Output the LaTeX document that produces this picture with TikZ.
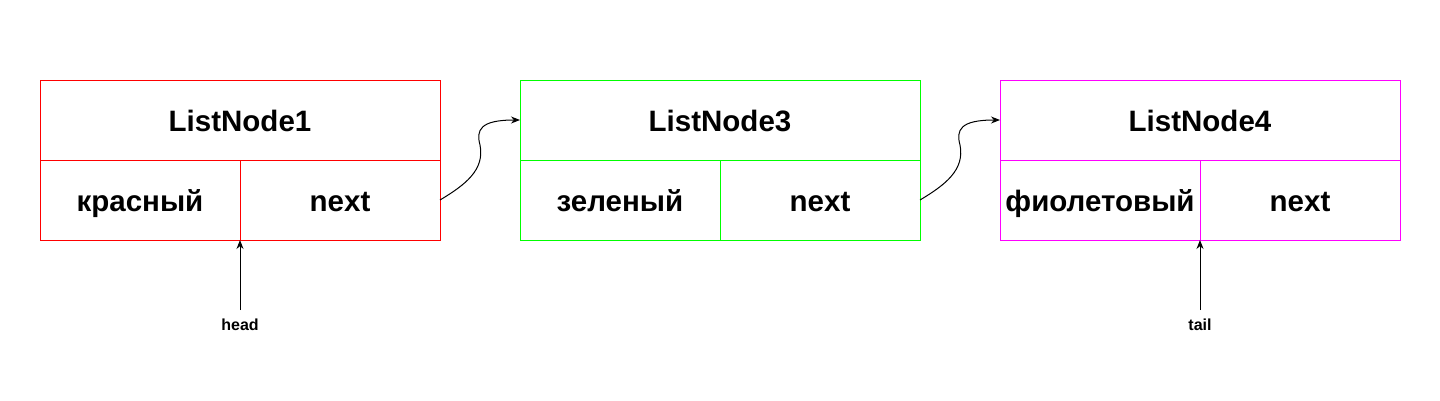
\documentclass[tikz,border=0pt]{standalone}
\usepackage{fontspec}
\setmainfont{Liberation Sans}
\usetikzlibrary{arrows.meta,positioning}
\definecolor{nodered}{RGB}{255,0,0}
\definecolor{nodegreen}{RGB}{0,255,0}
\definecolor{nodeviolet}{RGB}{255,0,255}

\begin{document}
\begin{tikzpicture}[x=1pt, y=-1pt, >={Stealth[length=9pt,width=7pt]}, line width=1pt,
title/.style={draw=#1, minimum width=400pt, minimum height=80pt, inner sep=0pt, outer sep=0pt,
  font=\fontsize{29.5}{34}\selectfont\bfseries, text height=23pt, text depth=0pt},
cell/.style={title=#1, minimum width=200pt},
pointer/.style={font=\fontsize{16}{19}\selectfont\bfseries, inner xsep=0pt,
  inner ysep=8pt, outer sep=0pt, text height=12pt, text depth=0pt}]
        \useasboundingbox (0,0) rectangle (1440,400);
        \node [title=nodered] (n1) at (240,120) {ListNode1};
        \node [cell=nodered, below right=0pt of n1.south west] (n1val) {красный};
        \node [cell=nodered, right=0pt of n1val] (n1next) {next};
        \node [title=nodegreen] (n3) at (720,120) {ListNode3};
        \node [cell=nodegreen, below right=0pt of n3.south west] (n3val) {зеленый};
        \node [cell=nodegreen, right=0pt of n3val] (n3next) {next};
        \node [title=nodeviolet] (n4) at (1200,120) {ListNode4};
        \node [cell=nodeviolet, below right=0pt of n4.south west] (n4val) {фиолетовый};
        \node [cell=nodeviolet, right=0pt of n4val] (n4next) {next};
        \node [pointer] (head) at (240,324) {head};
        \node [pointer] (tail) at (1200,324) {tail};
        \draw [->] (n1next.east) .. controls +(25,-15) and +(5,25) .. ++(40,-55)
            .. controls +(-4,-15) and +(-40,0) .. (n3.west);
        \draw [->] (n3next.east) .. controls +(25,-15) and +(5,25) .. ++(40,-55)
            .. controls +(-4,-15) and +(-40,0) .. (n4.west);
        \draw [->] (head.north) -- (n1val.south east);
        \draw [->] (tail.north) -- (n4val.south east);
    \end{tikzpicture}
\end{document}
